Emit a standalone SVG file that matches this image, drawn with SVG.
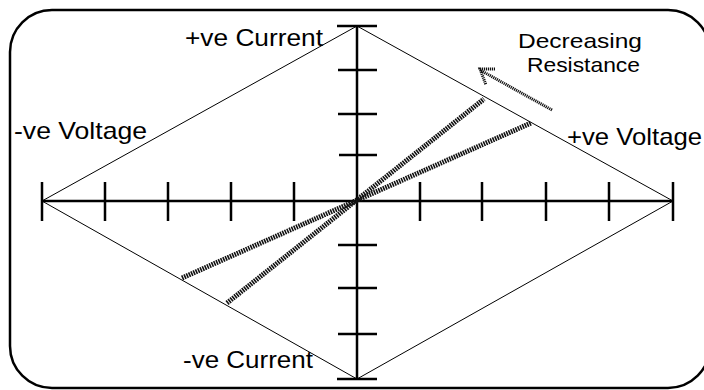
<svg xmlns="http://www.w3.org/2000/svg" width="704" height="390" viewBox="0 0 704 390">
<style>
.frame{fill:#fff;stroke:#000;stroke-width:2.5}
.axis{stroke:#000;stroke-width:2.5;fill:none}
.thin{stroke:#000;stroke-width:1;fill:none}
.hatch{stroke:#111;stroke-width:5;stroke-dasharray:1.6 0.9;fill:none}
.dot{stroke:#111;stroke-width:3;stroke-dasharray:1.2 0.8;fill:none}
.lbl{font-family:"Liberation Sans",Arial,sans-serif;font-size:24px;fill:#000}
.lbl2{font-family:"Liberation Sans",Arial,sans-serif;font-size:21px;fill:#000}
</style>
<rect class="frame" x="10" y="10" width="700" height="378" rx="42" ry="42"/>
<g id="axes">
<line class="axis" x1="42" y1="201" x2="673" y2="201"/>
<line class="axis" x1="357" y1="26" x2="357" y2="379"/>
<path class="axis" d="M42 182V221M105 182V221M168 182V221M231 182V221M294 182V221M420 182V221M482 182V221M546 182V221M609 182V221M673 182V221"/>
<path class="axis" d="M337 26H377M338 70H377M338 114H377M339 155H377M338 245H377M338 288H377M338 334H377M337 379H377"/>
</g>
<g id="connectors">
<path class="thin" d="M42 201L357 26L673 201L357 379Z"/>
<line class="hatch" x1="227" y1="303" x2="484" y2="99"/>
<line class="hatch" x1="182" y1="278" x2="531" y2="123"/>
<path class="dot" d="M552 110L480 70M495 69H480L486 85"/>
</g>
<g id="labels">
<text class="lbl" x="185" y="46" textLength="138" lengthAdjust="spacingAndGlyphs">+ve Current</text>
<text class="lbl" x="14" y="139" textLength="133" lengthAdjust="spacingAndGlyphs">-ve Voltage</text>
<text class="lbl" x="567" y="145" textLength="135" lengthAdjust="spacingAndGlyphs">+ve Voltage</text>
<text class="lbl" x="183" y="368" textLength="130" lengthAdjust="spacingAndGlyphs">-ve Current</text>
<text class="lbl2" x="518" y="48" textLength="124" lengthAdjust="spacingAndGlyphs">Decreasing</text>
<text class="lbl2" x="527" y="72" textLength="113" lengthAdjust="spacingAndGlyphs">Resistance</text>
</g>
</svg>
